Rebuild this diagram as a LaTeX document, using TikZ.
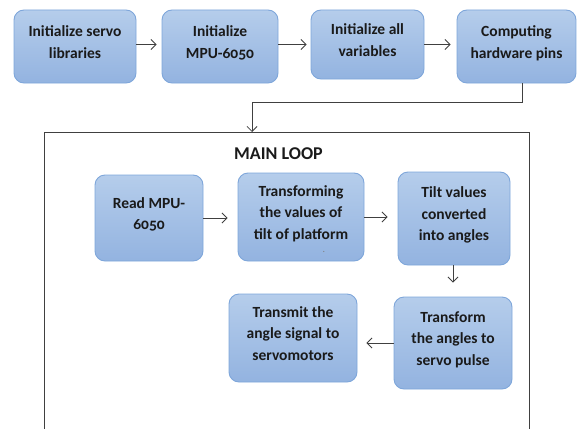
\documentclass[tikz,border=0pt]{standalone}
\usepackage{fontspec}
\setmainfont{Carlito}[Numbers=OldStyle]
\usetikzlibrary{arrows.meta}

\definecolor{boxtop}{HTML}{B5CDEB}
\definecolor{boxbot}{HTML}{93B3E0}
\definecolor{boxline}{HTML}{7EA6DA}
\definecolor{ink}{HTML}{1A1A1A}
\definecolor{wire}{HTML}{404040}

\tikzstyle{stage} = [rectangle, rounded corners=10pt, draw=boxline, line width=0.9pt, top color=boxtop, bottom color=boxbot, align=center, text=ink, inner sep=0pt, text depth=9pt, font=\bfseries\fontsize{15.5}{21.5}\selectfont]
\tikzstyle{flow} = [draw=wire, line width=0.8pt, -{Straight Barb[length=5pt,width=10pt]}]

\begin{document}
\begin{tikzpicture}[x=1pt,y=-1pt]
\useasboundingbox (0,0) rectangle (577,428);
% set-up row
\node[stage, minimum width=122pt, minimum height=73pt] (init servo) at (75,46.5) {Initialize servo\\libraries};
\node[stage, minimum width=116pt, minimum height=73pt] (init mpu) at (220,46.5) {Initialize\\MPU-6050};
\node[stage, minimum width=113pt, minimum height=69pt] (init vars) at (367.5,44.5) {Initialize all\\variables};
\node[stage, minimum width=119pt, minimum height=73pt] (pins) at (516.5,46.5) {Computing\\hardware pins};
\draw[flow, shorten >=5pt] (init servo.east |- init vars.west) -- (init mpu.west |- init vars.west);
\draw[flow, shorten >=4pt] (init mpu.east |- init vars.west) -- (init vars.west);
\draw[flow, shorten >=6pt] (init vars.east) -- (pins.west |- init vars.west);

% main loop frame, open at the bottom
\coordinate (loop nw) at (44,132);
\coordinate (loop ne) at (529,132);
\draw[draw=wire, line width=0.9pt] (44,440) -- (loop nw) -- (loop ne) -- (529,440);
\node[font=\bfseries\fontsize{18}{22}\selectfont, text=ink] (loop title) at (278.5,153.5) {MAIN LOOP};
\coordinate (drop) at (252,102);
\draw[flow] ([xshift=5.5pt]pins.south) |- (drop) -- (drop |- loop nw);

% loop body
\node[stage, minimum width=108pt, minimum height=86pt] (read) at (149,218) {Read MPU-\\6050};
\node[stage, minimum width=126pt, minimum height=88pt] (tilt values) at (301,217) {Transforming\\the values of\\tilt of platform};
\node[anchor=base, font=\fontsize{10}{10}\selectfont, text=gray] (stray dot) at (324,252) {.};
\node[stage, minimum width=112pt, minimum height=93pt] (angles) at (454,218.5) {Tilt values\\converted\\into angles};
\node[stage, minimum width=118pt, minimum height=92pt] (pulse) at (453,343) {Transform\\the angles to\\servo pulse};
\node[stage, minimum width=128pt, minimum height=88pt] (send) at (293,338) {Transmit the\\angle signal to\\servomotors};
\draw[flow, shorten >=10pt] (read.east) -- (tilt values.west |- read.east);
\draw[flow, shorten >=10pt] (tilt values.east) -- (angles.west |- tilt values.east);
\draw[flow, shorten >=14pt] ([xshift=-1pt]angles.south) -- ([xshift=-1pt]angles.south |- pulse.north);
\draw[flow, shorten >=9pt] (pulse.west) -- (send.east |- pulse.west);
\end{tikzpicture}
\end{document}
